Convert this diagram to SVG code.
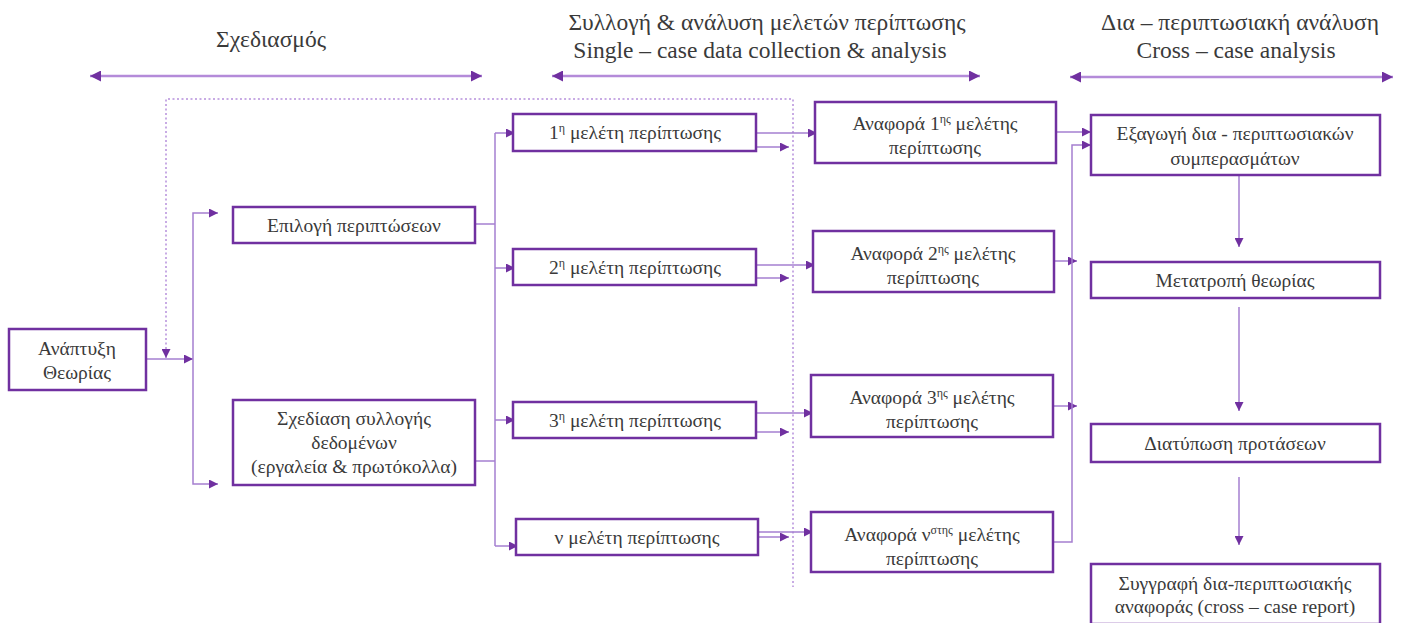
<svg xmlns="http://www.w3.org/2000/svg" width="1403" height="623" viewBox="0 0 1403 623" font-family="'Liberation Serif', 'Times New Roman', serif">
  <style>
    text { font-family: "Liberation Serif", "Times New Roman", serif; fill: #3a3a3a; text-anchor: middle; }
    .hd { font-size: 23.5px; }
    .bx { font-size: 19.5px; }
    .node rect { fill: #ffffff; stroke: #7030a0; stroke-width: 2.5; }
    .conn { fill: none; stroke: #a57fd0; stroke-width: 1.5; }
    .span { fill: none; stroke: #b48bd9; stroke-width: 2.5; }
    .dash { fill: none; stroke: #b690dc; stroke-width: 1.5; stroke-dasharray: 2 2.5; }
    .sup { font-size: 12px; }
  </style>
  <defs>
    <marker id="arr" viewBox="0 0 10 10" refX="10" refY="5" markerWidth="9" markerHeight="9" markerUnits="userSpaceOnUse" orient="auto-start-reverse">
      <path d="M0 0 L10 5 L0 10 Z" fill="#7030a0"/>
    </marker>
    <marker id="arrBig" viewBox="0 0 10 10" refX="10" refY="5" markerWidth="12" markerHeight="11" markerUnits="userSpaceOnUse" orient="auto-start-reverse">
      <path d="M0 0 L10 5 L0 10 Z" fill="#7030a0"/>
    </marker>
  </defs>

  <rect width="1403" height="623" fill="#ffffff"/>

  <!-- phase headings -->
  <g id="phase-design">
    <text class="hd" x="271" y="47">Σχεδιασμός</text>
    <path class="span" d="M90 76 H482" marker-start="url(#arrBig)" marker-end="url(#arrBig)"/>
  </g>
  <g id="phase-single">
    <text class="hd" x="767" y="30">Συλλογή &amp; ανάλυση μελετών περίπτωσης</text>
    <text class="hd" x="760" y="58">Single – case data collection &amp; analysis</text>
    <path class="span" d="M552 76 H980" marker-start="url(#arrBig)" marker-end="url(#arrBig)"/>
  </g>
  <g id="phase-cross">
    <text class="hd" x="1240" y="30">Δια – περιπτωσιακή ανάλυση</text>
    <text class="hd" x="1236" y="58">Cross – case analysis</text>
    <path class="span" d="M1070 77 H1393" marker-start="url(#arrBig)" marker-end="url(#arrBig)"/>
  </g>

  <!-- connectors -->
  <g id="connectors">
    <path class="dash" d="M166 358 V99 H793 V587" marker-start="url(#arr)"/>
    <path class="conn" d="M146 359 H193" marker-end="url(#arr)"/>
    <path class="conn" d="M218 213 H193 V484 H218" marker-start="url(#arr)" marker-end="url(#arr)"/>
    <path class="conn" d="M475 224 H495"/>
    <path class="conn" d="M475 461 H495"/>
    <path class="conn" d="M495 133 V546"/>
    <path class="conn" d="M495 133 H515" marker-end="url(#arr)"/>
    <path class="conn" d="M495 268 H515" marker-end="url(#arr)"/>
    <path class="conn" d="M495 420 H515" marker-end="url(#arr)"/>
    <path class="conn" d="M495 546 H518" marker-end="url(#arr)"/>

    <path class="conn" d="M756 133 H817" marker-end="url(#arr)"/>
    <path class="conn" d="M756 147 H789" marker-end="url(#arr)"/>
    <path class="conn" d="M756 265 H815" marker-end="url(#arr)"/>
    <path class="conn" d="M756 278 H789" marker-end="url(#arr)"/>
    <path class="conn" d="M756 413 H813" marker-end="url(#arr)"/>
    <path class="conn" d="M756 432 H789" marker-end="url(#arr)"/>
    <path class="conn" d="M758 532 H813" marker-end="url(#arr)"/>
    <path class="conn" d="M758 537 H789" marker-end="url(#arr)"/>

    <path class="conn" d="M1056 132 H1091" marker-end="url(#arr)"/>
    <path class="conn" d="M1054 261 H1077" marker-end="url(#arr)"/>
    <path class="conn" d="M1053 406 H1077" marker-end="url(#arr)"/>
    <path class="conn" d="M1053 542 H1072 V145 H1091" marker-end="url(#arr)"/>

    <path class="conn" d="M1239 175 V247" marker-end="url(#arr)"/>
    <path class="conn" d="M1239 307 V411" marker-end="url(#arr)"/>
    <path class="conn" d="M1239 477 V545" marker-end="url(#arr)"/>
  </g>

  <!-- nodes -->
  <g id="n-theory" class="node">
    <rect x="9" y="329" width="137" height="61"/>
    <text class="bx" x="77" y="355">Ανάπτυξη</text>
    <text class="bx" x="77" y="379">Θεωρίας</text>
  </g>
  <g id="n-selection" class="node">
    <rect x="233" y="207" width="242" height="36"/>
    <text class="bx" x="354" y="232">Επιλογή περιπτώσεων</text>
  </g>
  <g id="n-protocol" class="node">
    <rect x="233" y="400" width="242" height="85"/>
    <text class="bx" x="354" y="425">Σχεδίαση συλλογής</text>
    <text class="bx" x="354" y="449">δεδομένων</text>
    <text class="bx" x="354" y="473">(εργαλεία &amp; πρωτόκολλα)</text>
  </g>

  <g id="n-case1" class="node">
    <rect x="513" y="114" width="243" height="37"/>
    <text class="bx" x="635" y="139">1<tspan class="sup" dy="-7">η</tspan><tspan dy="7"> μελέτη περίπτωσης</tspan></text>
  </g>
  <g id="n-case2" class="node">
    <rect x="513" y="249" width="243" height="36"/>
    <text class="bx" x="635" y="274">2<tspan class="sup" dy="-7">η</tspan><tspan dy="7"> μελέτη περίπτωσης</tspan></text>
  </g>
  <g id="n-case3" class="node">
    <rect x="513" y="402" width="243" height="36"/>
    <text class="bx" x="635" y="427">3<tspan class="sup" dy="-7">η</tspan><tspan dy="7"> μελέτη περίπτωσης</tspan></text>
  </g>
  <g id="n-casen" class="node">
    <rect x="516" y="519" width="242" height="36"/>
    <text class="bx" x="637" y="544">ν μελέτη περίπτωσης</text>
  </g>

  <g id="n-report1" class="node">
    <rect x="815" y="102" width="241" height="61"/>
    <text class="bx" x="935" y="130">Αναφορά 1<tspan class="sup" dy="-7">ης</tspan><tspan dy="7"> μελέτης</tspan></text>
    <text class="bx" x="935" y="154">περίπτωσης</text>
  </g>
  <g id="n-report2" class="node">
    <rect x="813" y="231" width="241" height="61"/>
    <text class="bx" x="933" y="260">Αναφορά 2<tspan class="sup" dy="-7">ης</tspan><tspan dy="7"> μελέτης</tspan></text>
    <text class="bx" x="933" y="284">περίπτωσης</text>
  </g>
  <g id="n-report3" class="node">
    <rect x="811" y="375" width="242" height="62"/>
    <text class="bx" x="932" y="404">Αναφορά 3<tspan class="sup" dy="-7">ης</tspan><tspan dy="7"> μελέτης</tspan></text>
    <text class="bx" x="932" y="428">περίπτωσης</text>
  </g>
  <g id="n-reportn" class="node">
    <rect x="811" y="512" width="242" height="60"/>
    <text class="bx" x="932" y="541">Αναφορά ν<tspan class="sup" dy="-7">στης</tspan><tspan dy="7"> μελέτης</tspan></text>
    <text class="bx" x="932" y="565">περίπτωσης</text>
  </g>

  <g id="n-conclusions" class="node">
    <rect x="1091" y="115" width="289" height="60"/>
    <text class="bx" x="1235" y="140">Εξαγωγή δια - περιπτωσιακών</text>
    <text class="bx" x="1235" y="165">συμπερασμάτων</text>
  </g>
  <g id="n-revise" class="node">
    <rect x="1091" y="262" width="289" height="36"/>
    <text class="bx" x="1235" y="287">Μετατροπή θεωρίας</text>
  </g>
  <g id="n-propositions" class="node">
    <rect x="1091" y="424" width="289" height="38"/>
    <text class="bx" x="1235" y="450">Διατύπωση προτάσεων</text>
  </g>
  <g id="n-report" class="node">
    <rect x="1091" y="564" width="289" height="60"/>
    <text class="bx" x="1235" y="590">Συγγραφή δια-περιπτωσιακής</text>
    <text class="bx" x="1235" y="613">αναφοράς (cross – case report)</text>
  </g>
</svg>
